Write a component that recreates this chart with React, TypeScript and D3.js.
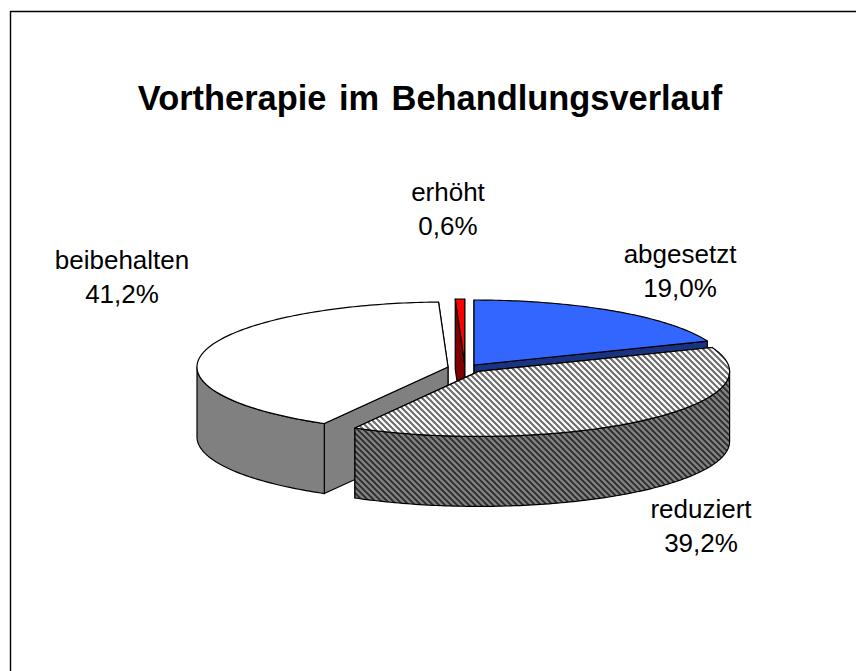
import React from "react";
import * as d3 from "d3";

const categories = ["abgesetzt", "reduziert", "beibehalten", "erhöht"];
const shares = [19.0, 39.2, 41.2, 0.6];
const shareLabels = ["19,0%", "39,2%", "41,2%", "0,6%"];
const title = "Vortherapie im Behandlungsverlauf";
// slice centres after explosion, in the projected picture
const centersX = [474, 478.6, 448, 464.7];
const centersY = [365, 371.4, 367, 364];
const labelX = [680, 701, 122, 448];
const labelY = [263, 518, 269, 201];
const topFills = ["#3366ff", "url(#hatchTop)", "#ffffff", "#ff0000"];
const sideFills = ["#1a3380", "url(#hatchSide)", "#808080", "#800000"];
const drawOrder = [0, 3, 2, 1];

const RX = 251;
const RY = 65;
const DEPTH = 70;

const pieGen = d3.pie<number>().sort(null).value((d) => d);

function pt(cx: number, cy: number, a: number, dy = 0): [number, number] {
  return [cx + RX * Math.sin(a), cy - RY * Math.cos(a) + dy];
}
function arcPts(cx: number, cy: number, a0: number, a1: number, dy = 0) {
  const n = Math.max(2, Math.ceil((Math.abs(a1 - a0) * 180) / Math.PI));
  return d3.range(n + 1).map((i) => pt(cx, cy, a0 + ((a1 - a0) * i) / n, dy));
}
const line = d3.line();
const closed = (p: [number, number][]) => line(p)! + "Z";

export default function App() {
  const arcs = pieGen(shares);
  const common = { stroke: "#000", strokeWidth: 1.2, strokeLinejoin: "round" as const };
  return (
    <svg width={856} height={671} style={{ position: "absolute", left: 0, top: 0, background: "#fff" }}>
      <defs>
        <pattern id="hatchTop" width={6} height={6} patternUnits="userSpaceOnUse">
          <rect width={6} height={6} fill="#fff" />
          <path d="M-1,-1 L7,7 M-4,2 L1,7 M2,-4 L7,1" stroke="#6a6a6a" strokeWidth={2} />
        </pattern>
        <pattern id="hatchSide" width={6} height={6} patternUnits="userSpaceOnUse">
          <rect width={6} height={6} fill="#808080" />
          <path d="M-1,-1 L7,7 M-4,2 L1,7 M2,-4 L7,1" stroke="#2a2a2a" strokeWidth={1.8} />
        </pattern>
      </defs>
      <path d="M10.5,671 L10.5,11.5 L856,11.5" fill="none" stroke="#000" strokeWidth={1.4} />
      <text x={430} y={110} textAnchor="middle" fontFamily="Liberation Sans" fontWeight="bold" fontSize={34.4} wordSpacing={3}>{title}</text>
      {drawOrder.map((i) => {
        const a = arcs[i];
        const cx = centersX[i], cy = centersY[i];
        const a0 = a.startAngle, a1 = a.endAngle;
        const apex: [number, number] = [cx, cy];
        const apexB: [number, number] = [cx, cy + DEPTH];
        const startFace = [apex, pt(cx, cy, a0), pt(cx, cy, a0, DEPTH), apexB] as [number, number][];
        const endFace = [apex, pt(cx, cy, a1), pt(cx, cy, a1, DEPTH), apexB] as [number, number][];
        const wallA0 = Math.max(a0, Math.PI / 2);
        const wallA1 = Math.min(a1, (3 * Math.PI) / 2);
        const hasWall = wallA1 > wallA0;
        const wall = hasWall
          ? [...arcPts(cx, cy, wallA0, wallA1), ...arcPts(cx, cy, wallA1, wallA0, DEPTH)]
          : [];
        const top: [number, number][] = [apex, ...arcPts(cx, cy, a0, a1)];
        const sf = sideFills[i];
        return (
          <g key={categories[i]}>
            <path d={closed(endFace)} fill={sf} {...common} />
            <path d={closed(startFace)} fill={sf} {...common} />
            {hasWall && <path d={closed(wall)} fill={sf} {...common} />}
            <path d={closed(top)} fill={topFills[i]} {...common} />
          </g>
        );
      })}
      {categories.map((c, i) => (
        <text key={c} textAnchor="middle" fontFamily="Liberation Sans" fontSize={26} fill="#000">
          <tspan x={labelX[i]} y={labelY[i]}>{c}</tspan>
          <tspan x={labelX[i]} y={labelY[i] + 33.5}>{shareLabels[i]}</tspan>
        </text>
      ))}
    </svg>
  );
}
